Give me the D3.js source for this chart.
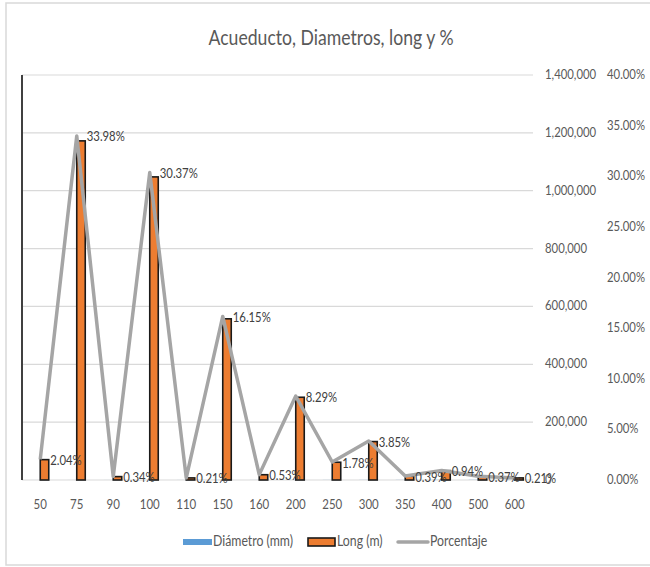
<!DOCTYPE html>
<html>
<head>
<meta charset="utf-8">
<script src="https://cdn.jsdelivr.net/npm/d3@7"></script>
<style>
  html, body { margin: 0; padding: 0; background: #fff; }
  svg { display: block; }
  text { font-family: Lato, "Open Sans", sans-serif; }
</style>
</head>
<body>
<script>
// Pipe diameters (mm) of the aqueduct network
const diametros = ["50", "75", "90", "100", "110", "150", "160", "200", "250", "300", "350", "400", "500", "600"];
// Diameter series (plotted on the length axis, so it stays flat)
const diametroValores = [50, 75, 90, 100, 110, 150, 160, 200, 250, 300, 350, 400, 500, 600];
// Total pipe length per diameter (m)
const longitudes = [70380, 1172310, 11730, 1047765, 7245, 557175, 18285, 286005, 61410, 132825, 13455, 32430, 12765, 7245];
// Share of the total length per diameter
const porcentajes = [0.0204, 0.3398, 0.0034, 0.3037, 0.0021, 0.1615, 0.0053, 0.0829, 0.0178, 0.0385, 0.0039, 0.0094, 0.0037, 0.0021];
// Axis ticks
const ticksLong = [0, 200000, 400000, 600000, 800000, 1000000, 1200000, 1400000];
const ticksPct = [0, 0.05, 0.10, 0.15, 0.20, 0.25, 0.30, 0.35, 0.40];

const W = 650, H = 567;
const plot = { left: 22, right: 533, top: 75, bottom: 480 };

// condense a text element horizontally around its own x position
function condense(sel, sx) {
  sel.each(function () {
    const x = +(this.getAttribute("x") || 0);
    const y = +(this.getAttribute("y") || 0);
    this.setAttribute("x", 0);
    this.setAttribute("y", 0);
    const prev = this.getAttribute("transform") || "";
    this.setAttribute("transform", `${prev} translate(${x},${y}) scale(${sx},1)`);
  });
}

const svg = d3.select("body").append("svg").attr("width", W).attr("height", H);

// chart frame
svg.append("rect").attr("x", 6).attr("y", 3).attr("width", W + 10).attr("height", 562)
  .attr("fill", "#fff").attr("stroke", "#d9d9d9").attr("stroke-width", 1.5);

svg.append("text").attr("x", 331).attr("y", 40).attr("text-anchor", "middle")
  .attr("dominant-baseline", "middle").attr("font-size", 21).attr("fill", "#595959")
  .text("Acueducto, Diametros, long y %")
  .call(condense, 0.84);

const x = d3.scaleBand().domain(diametros).range([plot.left, plot.right]).padding(0);
const serie = d3.scaleBand().domain(["diam", "long"]).range([-9.5, 9.5]).padding(0);
const yLong = d3.scaleLinear().domain([0, 1400000]).range([plot.bottom, plot.top]);
const yPct = d3.scaleLinear().domain([0, 0.40]).range([plot.bottom, plot.top]);

// gridlines
svg.append("g").selectAll("line").data(ticksLong).join("line")
  .attr("x1", plot.left).attr("x2", plot.right)
  .attr("y1", d => yLong(d)).attr("y2", d => yLong(d))
  .attr("stroke", "#d9d9d9").attr("stroke-width", 1.2);

// right-hand axes (labels only)
const fmtLong = d3.format(",");
const fmtPct = d3.format(".2%");
const axLong = svg.append("g").attr("transform", `translate(${plot.right},0)`)
  .call(d3.axisRight(yLong).tickValues(ticksLong).tickFormat(fmtLong).tickSize(0).tickPadding(12));
const axPct = svg.append("g").attr("transform", `translate(${plot.right + 74},0)`)
  .call(d3.axisRight(yPct).tickValues(ticksPct).tickFormat(fmtPct).tickSize(0).tickPadding(0));
[axLong, axPct].forEach(g => {
  g.select(".domain").remove();
  g.selectAll("text").attr("font-size", 14).attr("fill", "#595959")
    .attr("font-family", null).attr("dy", null).attr("dominant-baseline", "middle")
    .call(condense, 0.81);
});

// category axis
const axX = svg.append("g").attr("transform", `translate(0,${plot.bottom})`)
  .call(d3.axisBottom(x).tickSize(0).tickPadding(18));
axX.select(".domain").remove();
axX.selectAll("text").attr("font-size", 14).attr("fill", "#595959").attr("font-family", null)
  .attr("dy", null).attr("dominant-baseline", "middle").attr("y", 25)
  .call(condense, 0.82);

// left axis line
svg.append("line").attr("x1", plot.left).attr("x2", plot.left)
  .attr("y1", plot.top).attr("y2", plot.bottom)
  .attr("stroke", "#404040").attr("stroke-width", 2);

// bars
const cx = d => x(d) + x.bandwidth() / 2;
svg.append("g").selectAll("rect").data(diametros).join("rect")
  .attr("x", (d) => cx(d) + serie("diam"))
  .attr("width", serie.bandwidth())
  .attr("y", (d, i) => yLong(diametroValores[i]))
  .attr("height", (d, i) => plot.bottom - yLong(diametroValores[i]))
  .attr("fill", "#5b9bd5");

svg.append("g").selectAll("rect").data(diametros).join("rect")
  .attr("x", (d) => cx(d) + serie("long"))
  .attr("width", serie.bandwidth() - 1)
  .attr("y", (d, i) => yLong(longitudes[i]))
  .attr("height", (d, i) => plot.bottom - yLong(longitudes[i]))
  .attr("fill", "#ed7d31").attr("stroke", "#1a1a1a").attr("stroke-width", 1.6);

// percentage line
const line = d3.line().x((d, i) => cx(diametros[i])).y(d => yPct(d));
svg.append("path").datum(porcentajes).attr("d", line)
  .attr("fill", "none").attr("stroke", "#a5a5a5").attr("stroke-width", 3.5)
  .attr("stroke-linejoin", "round");

// percentage labels
svg.append("g").selectAll("text").data(porcentajes).join("text")
  .attr("x", (d, i) => cx(diametros[i]) + 10)
  .attr("y", d => yPct(d) + 2)
  .attr("dominant-baseline", "middle")
  .attr("font-size", 14).attr("fill", "#404040")
  .text(d => fmtPct(d))
  .call(condense, 0.81);

// legend
const lg = svg.append("g").attr("font-size", 15).attr("fill", "#595959");
lg.append("rect").attr("x", 183).attr("y", 539).attr("width", 29).attr("height", 6).attr("fill", "#5b9bd5");
lg.append("text").attr("x", 213).attr("y", 542).attr("dominant-baseline", "middle").text("Diámetro (mm)").call(condense, 0.82);
lg.append("rect").attr("x", 308).attr("y", 538).attr("width", 27).attr("height", 8)
  .attr("fill", "#ed7d31").attr("stroke", "#1a1a1a").attr("stroke-width", 1.6);
lg.append("text").attr("x", 337).attr("y", 542).attr("dominant-baseline", "middle").text("Long (m)").call(condense, 0.82);
lg.append("line").attr("x1", 398).attr("x2", 428).attr("y1", 542).attr("y2", 542)
  .attr("stroke", "#a5a5a5").attr("stroke-width", 3.5).attr("stroke-linecap", "round");
lg.append("text").attr("x", 430).attr("y", 542).attr("dominant-baseline", "middle").text("Porcentaje").call(condense, 0.82);
</script>
</body>
</html>
